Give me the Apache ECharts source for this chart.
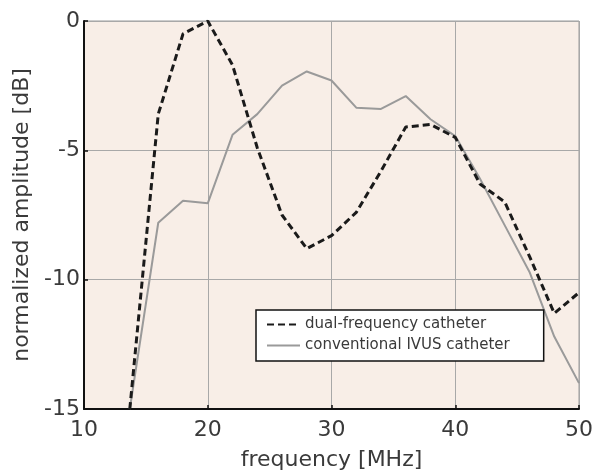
<!DOCTYPE html>
<html>
<head>
<meta charset="utf-8">
<script src="https://cdn.jsdelivr.net/npm/echarts@6/dist/echarts.min.js"></script>
<style>
  html, body { margin: 0; padding: 0; background: #ffffff; }
  #chart { width: 596px; height: 476px; }
</style>
</head>
<body>
<div id="chart"></div>
<script>
// frequency [MHz] / normalized amplitude [dB]
const dualFreq = [13.7, 16, 18, 20, 22, 24, 26, 28, 30, 32, 34, 36, 38, 40, 42, 44, 46, 48, 50];
const dualAmp = [-15, -3.6, -0.5, 0, -1.7, -4.9, -7.5, -8.8, -8.3, -7.4, -5.8, -4.1, -4.0, -4.5, -6.3, -7.0, -9.1, -11.3, -10.5];

const convFreq = [13.7, 16, 18, 20, 22, 24, 26, 28, 30, 32, 34, 36, 38, 40, 42, 44, 46, 48, 50];
const convAmp = [-15, -7.8, -6.95, -7.05, -4.4, -3.6, -2.5, -1.95, -2.3, -3.35, -3.4, -2.9, -3.8, -4.45, -6.1, -7.9, -9.7, -12.2, -14.0];

const xTicks = [10, 20, 30, 40, 50];
const yTicks = [-15, -10, -5, 0];

const textColor = '#3a3a3a';
const fontMain = '"DejaVu Sans", Verdana, sans-serif';

function pairs(xs, ys) {
    return xs.map((x, i) => [x, ys[i]]);
}

const chart = echarts.init(document.getElementById('chart'));

chart.setOption({
    backgroundColor: '#ffffff',
    animation: false,
    grid: {
        left: 84,
        right: 17,
        top: 21,
        bottom: 66,
        show: true,
        backgroundColor: '#f8eee7',
        borderColor: '#9a9a9a',
        borderWidth: 1
    },
    legend: {
        orient: 'vertical',
        left: 256,
        top: 310,
        itemWidth: 33,
        itemHeight: 10,
        itemGap: 6,
        padding: [7, 34, 8, 10],
        backgroundColor: '#ffffff',
        borderColor: '#111111',
        borderWidth: 1.5,
        borderRadius: 0,
        itemStyle: { opacity: 0 },
        textStyle: { color: textColor, fontFamily: fontMain, fontSize: 15 },
        data: ['dual-frequency catheter', 'conventional IVUS catheter']
    },
    xAxis: {
        type: 'value',
        min: xTicks[0],
        max: xTicks[xTicks.length - 1],
        interval: 10,
        name: 'frequency [MHz]',
        nameLocation: 'middle',
        nameGap: 40,
        nameTextStyle: { color: textColor, fontFamily: fontMain, fontSize: 22 },
        axisLine: { onZero: false, lineStyle: { color: '#111111', width: 2 } },
        axisTick: { show: true, inside: true, length: 4, lineStyle: { color: '#111111', width: 1.5 } },
        axisLabel: { color: textColor, fontFamily: fontMain, fontSize: 22, margin: 10 },
        splitLine: { lineStyle: { color: '#a8a8a8', width: 1 } }
    },
    yAxis: {
        type: 'value',
        min: yTicks[0],
        max: yTicks[yTicks.length - 1],
        interval: 5,
        name: 'normalized amplitude [dB]',
        nameLocation: 'middle',
        nameGap: 49,
        nameTextStyle: { color: textColor, fontFamily: fontMain, fontSize: 22 },
        axisLine: { show: true, onZero: false, lineStyle: { color: '#111111', width: 2 } },
        axisTick: { show: true, inside: true, length: 4, lineStyle: { color: '#111111', width: 1.5 } },
        axisLabel: { color: textColor, fontFamily: fontMain, fontSize: 22, margin: 4 },
        splitLine: { lineStyle: { color: '#a8a8a8', width: 1 } }
    },
    series: [
        {
            name: 'conventional IVUS catheter',
            type: 'line',
            data: pairs(convFreq, convAmp),
            symbol: 'none',
            lineStyle: { color: '#9a9a9a', width: 2, type: 'solid' },
            itemStyle: { color: '#9a9a9a' },
            z: 2
        },
        {
            name: 'dual-frequency catheter',
            type: 'line',
            data: pairs(dualFreq, dualAmp),
            symbol: 'none',
            lineStyle: { color: '#1a1a1a', width: 3, type: [7, 4] },
            itemStyle: { color: '#1a1a1a' },
            z: 3
        }
    ]
});
</script>
</body>
</html>
